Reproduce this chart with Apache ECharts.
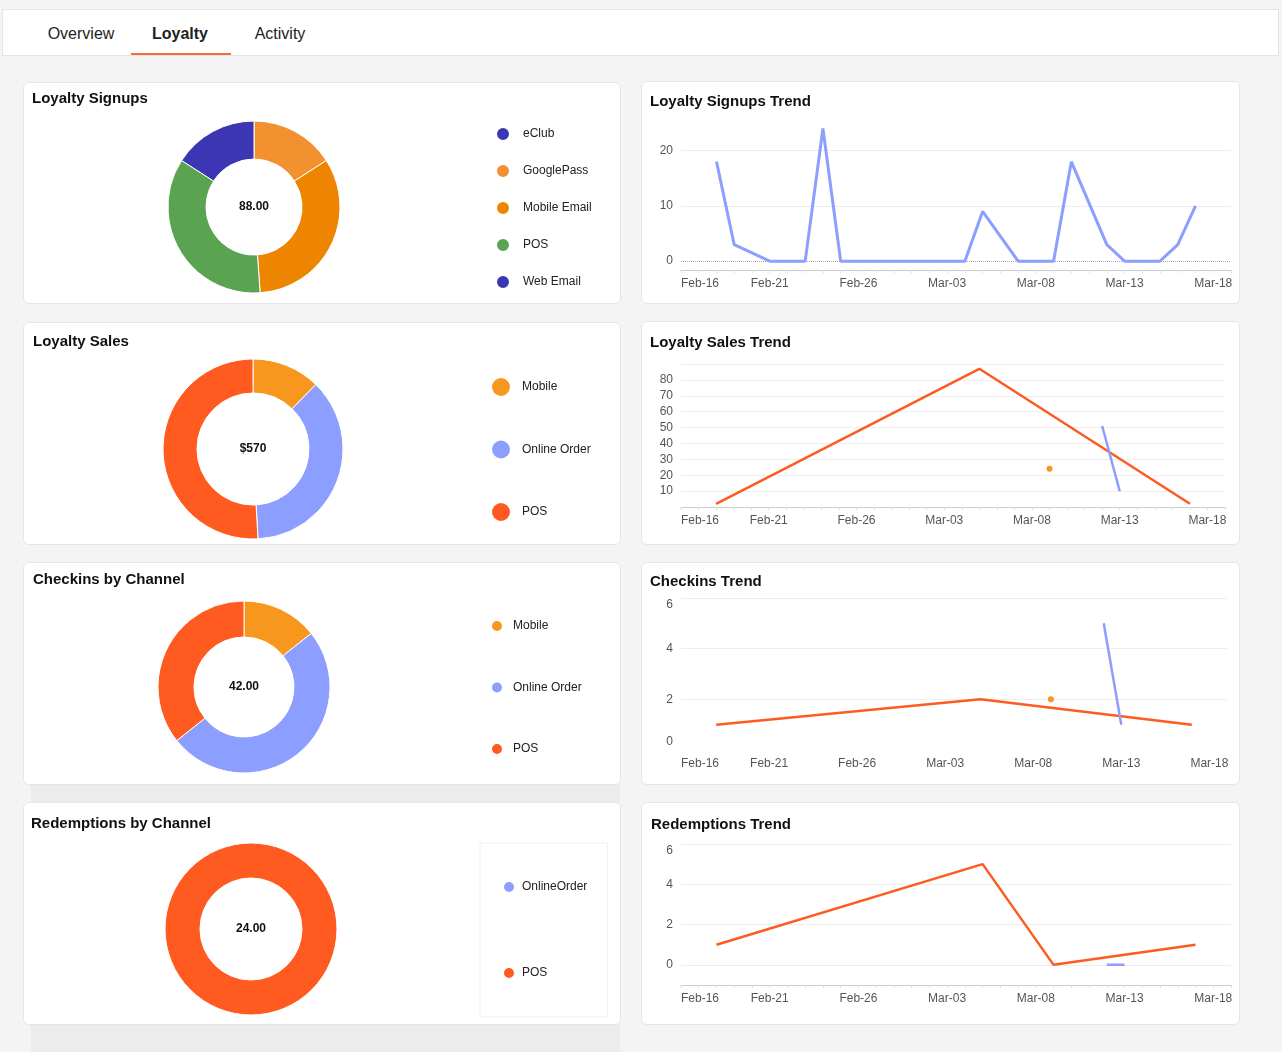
<!DOCTYPE html>
<html><head><meta charset="utf-8">
<script src="https://cdn.jsdelivr.net/npm/echarts@6/dist/echarts.min.js"></script>
<style>
body{margin:0;background:#f4f4f4;font-family:"Liberation Sans",Arial,sans-serif;width:1282px;height:1052px;position:relative;overflow:hidden}
.tabs{position:absolute;left:2px;top:9px;width:1275px;height:45px;background:#fff;border:1px solid #e4e4e4}
.tab{position:absolute;top:24px;transform:translate(-50%,-50%);font-size:16px;color:#222}
.ul{position:absolute;left:128px;top:43px;width:100px;height:2px;background:#f26b3a}
.card{position:absolute;background:#fff;border:1px solid #e6e6e6;border-radius:6px;box-sizing:border-box;overflow:hidden}
.strip{position:absolute;background:#ececec}
</style></head><body>
<div class="tabs">
<div class="tab" style="left:78px">Overview</div>
<div class="tab" style="left:177px;font-weight:bold">Loyalty</div>
<div class="tab" style="left:277px">Activity</div>
<div class="ul"></div>
</div>
<div class="strip" style="left:31px;top:785px;width:589px;height:18px"></div>
<div class="strip" style="left:31px;top:1025px;width:589px;height:27px"></div>
<div class="card" id="p1" style="left:23px;top:82px;width:598px;height:222px"></div>
<div class="card" id="p2" style="left:23px;top:322px;width:598px;height:223px"></div>
<div class="card" id="p3" style="left:23px;top:562px;width:598px;height:223px"></div>
<div class="card" id="p4" style="left:23px;top:802px;width:598px;height:223px"></div>
<div class="card" id="t1" style="left:641px;top:81px;width:599px;height:223px"></div>
<div class="card" id="t2" style="left:641px;top:321px;width:599px;height:224px"></div>
<div class="card" id="t3" style="left:641px;top:562px;width:599px;height:223px"></div>
<div class="card" id="t4" style="left:641px;top:802px;width:599px;height:223px"></div>
<script>
// ---- data ----
const signupChannels = ['eClub','GooglePass','Mobile Email','POS','Web Email'];
const signupValues = [0,14,29,31,14];
const signupColors = ['#3c36b4','#f39131','#ee8500','#5aa350','#3c36b4'];
const salesChannels = ['Mobile','Online Order','POS'];
const salesValues = [70,210,290];
const checkinChannels = ['Mobile','Online Order','POS'];
const checkinValues = [6,21,15];
const redemptionChannels = ['OnlineOrder','POS'];
const redemptionValues = [0,24];
const chColors = {'Mobile':'#f7971e','Online Order':'#8c9eff','OnlineOrder':'#8c9eff','POS':'#ff5a1f'};

const dates = ['Feb-16','Feb-17','Feb-18','Feb-19','Feb-20','Feb-21','Feb-22','Feb-23','Feb-24','Feb-25','Feb-26','Feb-27','Feb-28',
'Mar-01','Mar-02','Mar-03','Mar-04','Mar-05','Mar-06','Mar-07','Mar-08','Mar-09','Mar-10','Mar-11','Mar-12','Mar-13','Mar-14','Mar-15','Mar-16','Mar-17','Mar-18','Mar-19'];
const signupTrend = [null,null,18,3,null,0,0,0,24,0,0,0,0,0,0,0,0,9,null,0,0,0,18,null,3,0,0,0,3,10,null,null];
// [date, value] points
const salesPOS = [['Feb-18',2],['Mar-05',87],['Mar-17',2]];
const salesOnline = [['Mar-12',51],['Mar-13',10]];
const salesMobile = [['Mar-09',24]];
const checkinPOS = [['Feb-18',1],['Mar-05',2],['Mar-17',1]];
const checkinOnline = [['Mar-12',5],['Mar-13',1]];
const checkinMobile = [['Mar-09',2]];
const redemptionPOS = [['Feb-18',1],['Mar-05',5],['Mar-09',0],['Mar-17',1]];
const redemptionOnline = [['Mar-12',0],['Mar-13',0]];

const FONT = '"Liberation Sans", Arial, sans-serif';
function titleOf(t,left,top){return {text:t,left:left,top:top,padding:0,textStyle:{fontSize:15,fontWeight:'bold',color:'#111',fontFamily:FONT}};}

function pie(id,title,ttop,tleft,names,vals,colors,center,radius,centerText,legend,textPad){
  const c = echarts.init(document.getElementById(id));
  c.setOption({
    animation:false,
    title:titleOf(title,tleft,ttop),
    graphic:[{type:'text',x:center[0],y:center[1],silent:true,
      style:{text:centerText,align:'center',verticalAlign:'middle',fontSize:12,fontWeight:'bold',fill:'#111',fontFamily:FONT}}],
    legend:Object.assign({orient:'vertical',icon:'circle',selectedMode:false,padding:0,height:210,
      textStyle:{fontSize:12,color:'#222',fontFamily:FONT,padding:[0,0,0,textPad]},data:names},legend),
    series:[{type:'pie',center:center,radius:radius,label:{show:false},labelLine:{show:false},silent:true,
      itemStyle:{borderColor:'#fff',borderWidth:1},
      data:names.map((n,i)=>({name:n,value:vals[i],itemStyle:{color:colors[i]}}))}]
  });
}
const sum = a=>a.reduce((x,y)=>x+y,0);
pie('p1','Loyalty Signups',8,8,signupChannels,signupValues,signupColors,[230,124],[48,86],sum(signupValues).toFixed(2),
  {left:471,top:43,itemWidth:14,itemHeight:14,itemGap:21},8);
pie('p2','Loyalty Sales',11,9,salesChannels,salesValues,salesChannels.map(n=>chColors[n]),[229,126],[56,90],'$'+sum(salesValues),
  {left:466,top:53,itemWidth:20,itemHeight:20,itemGap:40.5},6);
pie('p3','Checkins by Channel',9,9,checkinChannels,checkinValues,checkinChannels.map(n=>chColors[n]),[220,124],[50,86],sum(checkinValues).toFixed(2),
  {left:466,top:56,itemWidth:12,itemHeight:12,itemGap:47.5},5);
pie('p4','Redemptions by Channel',13,7,redemptionChannels,redemptionValues,redemptionChannels.map(n=>chColors[n]),[227,126],[51,86],sum(redemptionValues).toFixed(2),
  {left:456,top:40,itemWidth:12,itemHeight:12,itemGap:72,padding:[37,20,37,22],borderColor:'#f0f0f0',borderWidth:1},2);

function xAxisCfg(showLine){
  return {type:'category',data:dates,boundaryGap:false,
    axisLine:{show:showLine,onZero:false,lineStyle:{color:'#ccc'}},
    axisTick:{show:showLine,interval:0,length:3,lineStyle:{color:'#ddd'}},
    axisLabel:{interval:4,color:'#555',fontSize:12,fontFamily:FONT,margin:8,alignMinLabel:'left'},
    splitLine:{show:false}};
}
const ylab = {color:'#555',fontSize:12,fontFamily:FONT};
function line(name,data,color,w,sym){
  return {type:'line',name:name,data:data,connectNulls:true,showSymbol:!!sym,symbol:'circle',symbolSize:6,
    lineStyle:{color:color,width:w},itemStyle:{color:color},silent:true,z:3};
}
function gridLines(vals,dotVal){
  return {silent:true,symbol:['none','none'],label:{show:false},z:1,
    data:vals.map(v=>({yAxis:v,lineStyle:{color:v===dotVal?'#aaa':'#eee',type:v===dotVal?'dotted':'solid',width:1}}))};
}

// Signups trend
echarts.init(document.getElementById('t1')).setOption({
  animation:false,title:titleOf('Loyalty Signups Trend',8,12),
  grid:{left:39,right:8,top:41,bottom:33},
  xAxis:xAxisCfg(true),
  yAxis:{type:'value',min:-1.6,max:25,splitLine:{show:false},axisLine:{show:false},axisTick:{show:false},
    axisLabel:Object.assign({customValues:[0,10,20]},ylab)},
  series:[Object.assign(line('Signups',signupTrend,'#8c9eff',3),{markLine:gridLines([0,10,20],0)})]
});
// Sales trend
echarts.init(document.getElementById('t2')).setOption({
  animation:false,title:titleOf('Loyalty Sales Trend',8,13),
  grid:{left:39,right:14,top:42,bottom:37},
  xAxis:xAxisCfg(true),
  yAxis:{type:'value',min:0,max:90,interval:10,axisLabel:Object.assign({showMinLabel:false,showMaxLabel:false},ylab),
    splitLine:{lineStyle:{color:'#eee'}}},
  series:[line('POS',salesPOS,'#ff5a1f',2.5),line('Online Order',salesOnline,'#8c9eff',2.5),line('Mobile',salesMobile,'#f7971e',2.5,true)]
});
function edgeFmt(max,min,doMin){
  return {formatter:v=>v===max?'{t|'+v+'}':(doMin&&v===min?'{b|'+v+'}':String(v)),
    rich:{t:{padding:[14,0,0,0],color:'#555',fontSize:12,fontFamily:FONT},b:{padding:[0,0,16,0],color:'#555',fontSize:12,fontFamily:FONT}}};
}
// Checkins trend
echarts.init(document.getElementById('t3')).setOption({
  animation:false,title:titleOf('Checkins Trend',8,11),
  grid:{left:39,right:12,top:35,bottom:34},
  xAxis:xAxisCfg(false),
  yAxis:{type:'value',min:0,max:6,interval:2,axisLabel:Object.assign({},ylab,edgeFmt(6,0,true)),
    splitLine:{lineStyle:{color:['transparent','#eee','#eee','#eee']}}},
  series:[line('POS',checkinPOS,'#ff5a1f',2.5),line('Online Order',checkinOnline,'#8c9eff',2.5),line('Mobile',checkinMobile,'#f7971e',2.5,true)]
});
// Redemptions trend
echarts.init(document.getElementById('t4')).setOption({
  animation:false,title:titleOf('Redemptions Trend',9,14),
  grid:{left:39,right:8,top:41,bottom:39},
  xAxis:xAxisCfg(true),
  yAxis:{type:'value',min:-1,max:6,splitLine:{show:false},axisLine:{show:false},axisTick:{show:false},
    axisLabel:Object.assign({customValues:[0,2,4,6]},ylab,edgeFmt(6,0,false))},
  series:[Object.assign(line('POS',redemptionPOS,'#ff5a1f',2.5),{markLine:gridLines([0,2,4,6],null)}),
    line('OnlineOrder',redemptionOnline,'#8c9eff',2.5)]
});
</script>
</body></html>
